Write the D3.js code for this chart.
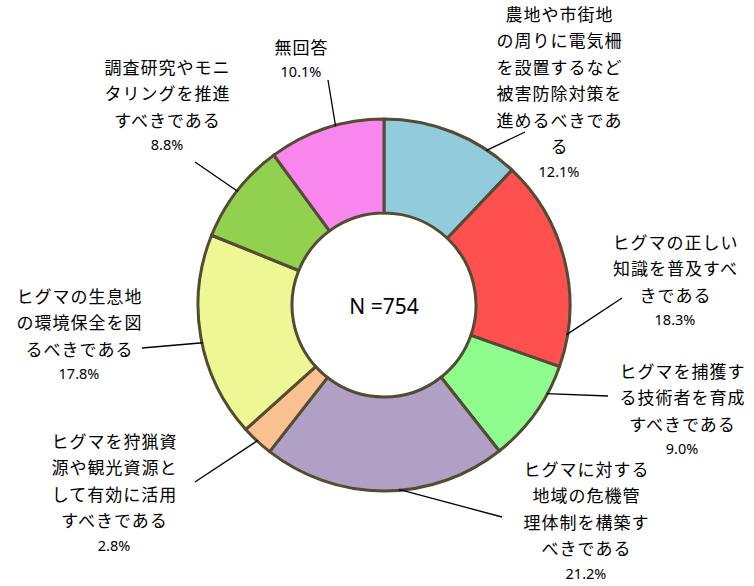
<!DOCTYPE html>
<html>
<head>
<meta charset="utf-8">
<script src="https://cdn.jsdelivr.net/npm/d3@7"></script>
<style>
  body { margin: 0; background: #fff; }
  svg { display: block; }
</style>
</head>
<body>
<svg width="754" height="586"></svg>
<script>
// answer categories (label lines as in the original), clockwise from top
var categories = [
    ["農地や市街地", "の周りに電気柵", "を設置するなど", "被害防除対策を", "進めるべきであ", "る"],
    ["ヒグマの正しい", "知識を普及すべ", "きである"],
    ["ヒグマを捕獲す", "る技術者を育成", "すべきである"],
    ["ヒグマに対する", "地域の危機管", "理体制を構築す", "べきである"],
    ["ヒグマを狩猟資", "源や観光資源と", "して有効に活用", "すべきである"],
    ["ヒグマの生息地", "の環境保全を図", "るべきである"],
    ["調査研究やモニ", "タリングを推進", "すべきである"],
    ["無回答"]
];
var values = [12.1, 18.3, 9.0, 21.2, 2.8, 17.8, 8.8, 10.1];
var colors = ["#92cbdb", "#ff5050", "#8efd8e", "#b0a0c6", "#f9c090", "#edf794", "#92d050", "#f986ec"];
var total = "N =754";

// label placement: text centre x, first line y, leader end, angle nudge (deg)
var layout = [
    {x: 559, y: 15,  lx: 525, ly: 132, da: 11.7},
    {x: 675, y: 243, lx: 622, ly: 298, da: 22.8},
    {x: 682, y: 372, lx: 608, ly: 396, da: -6.9},
    {x: 586, y: 470, lx: 502, ly: 517, da: -4.4},
    {x: 114, y: 442, lx: 195, ly: 482, da: 0},
    {x: 79,  y: 297, lx: 142, ly: 348, da: -1.8},
    {x: 167, y: 68,  lx: 195, ly: 162, da: 0},
    {x: 301, y: 48,  lx: 328, ly: 80,  da: 3}
];

var svg = d3.select("svg"),
    cx = 384, cy = 305,
    outerR = 186, innerR = 92;

var pie = d3.pie().sort(null).value(d => d);
var arcs = pie(values);

var arc = d3.arc()
    .innerRadius(innerR)
    .outerRadius(outerR);

var g = svg.append("g")
    .attr("transform", "translate(" + cx + "," + cy + ")");

// slices
g.selectAll("path")
    .data(arcs)
    .enter().append("path")
    .attr("d", arc)
    .attr("fill", (d, i) => colors[i])
    .attr("stroke", "#534b33")
    .attr("stroke-width", 3)
    .attr("stroke-linejoin", "round");

// leader lines
svg.append("g").selectAll("line")
    .data(arcs)
    .enter().append("line")
    .attr("x1", (d, i) => {
        var a = (d.startAngle + d.endAngle) / 2 + layout[i].da * Math.PI / 180;
        return cx + (outerR - 1) * Math.sin(a);
    })
    .attr("y1", (d, i) => {
        var a = (d.startAngle + d.endAngle) / 2 + layout[i].da * Math.PI / 180;
        return cy - (outerR - 1) * Math.cos(a);
    })
    .attr("x2", (d, i) => layout[i].lx)
    .attr("y2", (d, i) => layout[i].ly)
    .attr("stroke", "#000")
    .attr("stroke-width", 1.3);

// labels
var fmt = d3.format(".1f");
var labels = svg.append("g").selectAll("g")
    .data(categories)
    .enter().append("g");

labels.each(function (lines, i) {
    var el = d3.select(this), p = layout[i];
    lines.forEach((t, k) => {
        el.append("text")
            .attr("x", p.x + 0.5)
            .attr("y", p.y + k * 26.5)
            .attr("dy", "0.35em")
            .attr("text-anchor", "middle")
            .style("font-family", "'Noto Sans CJK JP', sans-serif")
            .style("font-size", "17px")
            .style("letter-spacing", "1px")
            .text(t);
    });
    el.append("text")
        .attr("x", p.x)
        .attr("y", p.y + (lines.length - 1) * 26.5 + 24)
        .attr("dy", "0.35em")
        .attr("text-anchor", "middle")
        .style("font-family", "'Noto Sans', sans-serif")
        .style("font-size", "14.5px")
        .text(fmt(values[i]) + "%");
});

// centre text
svg.append("text")
    .attr("x", cx)
    .attr("y", cy + 2)
    .attr("dy", "0.35em")
    .attr("text-anchor", "middle")
    .style("font-family", "'Noto Sans', sans-serif")
    .style("font-size", "21px")
    .text(total);
</script>
</body>
</html>
